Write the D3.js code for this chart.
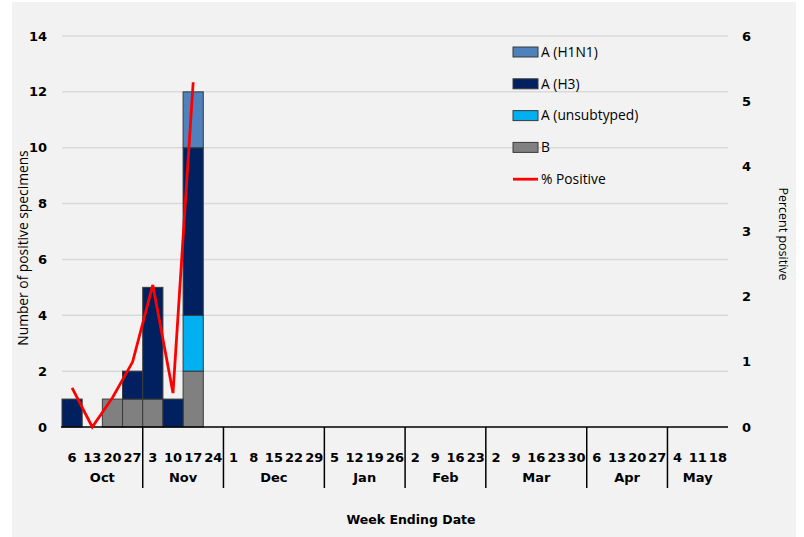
<!DOCTYPE html>
<html><head><meta charset="utf-8">
<script src="https://cdn.jsdelivr.net/npm/d3@7"></script>
<style>
body{margin:0;background:#fff;}
svg{display:block;}
</style></head>
<body>
<svg id="c" width="804" height="537"></svg>
<script>
const months = ["Oct","Nov","Dec","Jan","Feb","Mar","Apr","May"];
const monthWeeks = [[6,13,20,27],[3,10,17,24],[1,8,15,22,29],[5,12,19,26],[2,9,16,23],[2,9,16,23,30],[6,13,20,27],[4,11,18]];
const seriesNames = ["B","A (unsubtyped)","A (H3)","A (H1N1)"];
const seriesColors = ["#808080","#00b0f0","#002060","#4f81bd"];
// values per week (first 7 weeks; rest are zero)
const valB      = [0,0,1,1,1,0,2];
const valUnsub  = [0,0,0,0,0,0,2];
const valH3     = [1,0,0,1,4,1,6];
const valH1N1   = [0,0,0,0,0,0,2];
const pctPositive = [0.6,0,0.45,1.0,2.18,0.52,5.29];
const leftTicks = [0,2,4,6,8,10,12,14];
const rightTicks = [0,1,2,3,4,5,6];

const weeks = [];
monthWeeks.forEach((ws,mi)=>ws.forEach(d=>weeks.push({key:months[mi]+"-"+d, day:d, month:months[mi]})));
const get = (arr,i)=> i<arr.length?arr[i]:0;
const table = weeks.map((w,i)=>({key:w.key,
  "B":get(valB,i),"A (unsubtyped)":get(valUnsub,i),"A (H3)":get(valH3,i),"A (H1N1)":get(valH1N1,i)}));
const stack = d3.stack().keys(seriesNames)(table);

const svg = d3.select("#c");
svg.append("rect").attr("x",12).attr("y",2).attr("width",784).attr("height",535).attr("fill","#f2f2f2");

const x0=62, x1=728, yTop=36, yBase=427;
const x = d3.scaleBand().domain(weeks.map(w=>w.key)).range([x0,x1]).padding(0);
const y = d3.scaleLinear().domain([0,14]).range([yBase,yTop]);
const y2 = d3.scaleLinear().domain([0,6]).range([yBase,yTop]);

// gridlines
svg.append("g").selectAll("line").data(leftTicks.filter(t=>t>0)).join("line")
  .attr("x1",x0).attr("x2",x1).attr("y1",d=>y(d)).attr("y2",d=>y(d))
  .attr("stroke","#d9d9d9").attr("stroke-width",1.5);

// bars
svg.append("g").selectAll("g").data(stack).join("g")
  .attr("fill",(d,i)=>seriesColors[i])
  .selectAll("rect").data(d=>d.filter(p=>p[1]-p[0]>0)).join("rect")
  .attr("x",d=>x(d.data.key)).attr("width",x.bandwidth())
  .attr("y",d=>y(d[1])).attr("height",d=>y(d[0])-y(d[1]))
  .attr("stroke","#3a3a3a").attr("stroke-width",1);

// baseline
svg.append("line").attr("x1",x0-1).attr("x2",x1).attr("y1",yBase).attr("y2",yBase)
  .attr("stroke","#000").attr("stroke-width",1.5);

// line
const lineData = pctPositive.map((v,i)=>({key:weeks[i].key,v}));
svg.append("path").datum(lineData)
  .attr("d",d3.line().x(d=>x(d.key)+x.bandwidth()/2).y(d=>y2(d.v)))
  .attr("fill","none").attr("stroke","#ff0000").attr("stroke-width",2.8).attr("stroke-linejoin","miter");

const tickFont = "'DejaVu Sans',sans-serif";
// left axis labels
svg.append("g").selectAll("text").data(leftTicks).join("text")
  .attr("x",47).attr("y",d=>y(d)).attr("dy","0.35em").attr("text-anchor","end")
  .attr("font-family",tickFont).attr("font-weight","bold").attr("font-size",13).text(d=>d);
// right axis labels
svg.append("g").selectAll("text").data(rightTicks).join("text")
  .attr("x",742).attr("y",d=>y2(d)).attr("dy","0.35em").attr("text-anchor","start")
  .attr("font-family",tickFont).attr("font-weight","bold").attr("font-size",13).text(d=>d);

// week labels
svg.append("g").selectAll("text").data(weeks).join("text")
  .attr("x",d=>x(d.key)+x.bandwidth()/2).attr("y",457).attr("dy","0.35em").attr("text-anchor","middle")
  .attr("font-family",tickFont).attr("font-weight","bold").attr("font-size",13).text(d=>d.day);

// month labels & separators
let idx=0;
const mInfo = monthWeeks.map((ws,mi)=>{const s=idx; idx+=ws.length; return {m:months[mi], s, e:idx};});
svg.append("g").selectAll("text").data(mInfo).join("text")
  .attr("x",d=>(x(weeks[d.s].key)+x(weeks[d.e-1].key)+x.bandwidth())/2).attr("y",477).attr("dy","0.35em")
  .attr("text-anchor","middle").attr("font-family",tickFont).attr("font-weight","bold").attr("font-size",13).text(d=>d.m);
svg.append("g").selectAll("line").data(mInfo.slice(1)).join("line")
  .attr("x1",d=>x(weeks[d.s].key)).attr("x2",d=>x(weeks[d.s].key)).attr("y1",yBase).attr("y2",488)
  .attr("stroke","#000").attr("stroke-width",1.5);

// axis titles
const labFont = "'Open Sans','DejaVu Sans',sans-serif";
svg.append("text").attr("transform","translate(28,248) rotate(-90)").attr("text-anchor","middle")
  .attr("font-family",labFont).attr("font-size",13.8).text("Number of positive specimens");
svg.append("text").attr("transform","translate(779,234) rotate(90)").attr("text-anchor","middle")
  .attr("font-family",labFont).attr("font-size",12.5).text("Percent positive");
svg.append("text").attr("x",411).attr("y",520).attr("dy","0.35em").attr("text-anchor","middle")
  .attr("font-family",tickFont).attr("font-weight","bold").attr("font-size",12.5).text("Week Ending Date");

// legend
const legendItems = [
  {name:"A (H1N1)", color:"#4f81bd", type:"rect"},
  {name:"A (H3)", color:"#002060", type:"rect"},
  {name:"A (unsubtyped)", color:"#00b0f0", type:"rect"},
  {name:"B", color:"#808080", type:"rect"},
  {name:"% Positive", color:"#ff0000", type:"line"}];
const lg = svg.append("g").selectAll("g").data(legendItems).join("g")
  .attr("transform",(d,i)=>`translate(513,${52+i*31.8})`);
lg.filter(d=>d.type==="rect").append("rect").attr("x",0).attr("y",-5).attr("width",25).attr("height",10)
  .attr("fill",d=>d.color).attr("stroke","#3a3a3a").attr("stroke-width",1);
lg.filter(d=>d.type==="line").append("line").attr("x1",0).attr("x2",25).attr("y1",0).attr("y2",0)
  .attr("stroke",d=>d.color).attr("stroke-width",2.8);
lg.append("text").attr("x",28).attr("y",0).attr("dy","0.35em").attr("font-family",labFont).attr("font-size",13.8)
  .text(d=>d.name);
</script>
</body></html>
